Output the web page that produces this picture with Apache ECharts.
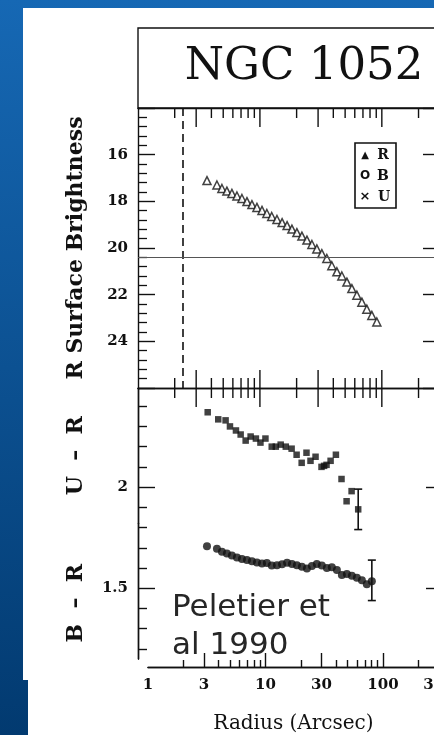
<!DOCTYPE html>
<html>
<head>
<meta charset="utf-8">
<script src="https://cdn.jsdelivr.net/npm/echarts@6/dist/echarts.min.js"></script>
<style>
html,body{margin:0;padding:0;}
body{width:434px;height:735px;position:relative;overflow:hidden;background:linear-gradient(180deg,#1668b4 0%,#023a70 100%);}
.pnl{position:absolute;background:#fff;}
#c{position:absolute;left:0;top:0;width:434px;height:735px;}
</style>
</head>
<body>
<div class="pnl" style="left:23px;top:8px;width:411px;height:672px;"></div>
<div class="pnl" style="left:28px;top:679px;width:406px;height:56px;"></div>
<div id="c"></div>
<script>
// ---------- data ----------
// R surface brightness profile (mag/arcsec^2) vs radius (arcsec)
const radiusR = [3.68, 4.44, 4.88, 5.36, 5.89, 6.48, 7.12, 7.83, 8.60, 9.45,
                 10.4, 11.4, 12.5, 13.8, 15.2, 16.7, 18.3, 20.1, 22.1, 24.3,
                 26.7, 29.3, 32.2, 35.4, 38.9, 42.8, 47.0, 51.7, 56.8, 62.4,
                 68.6, 75.3, 82.8, 91.0];
const magR = [17.11, 17.30, 17.45, 17.56, 17.66, 17.77, 17.88, 18.01, 18.14, 18.26,
              18.39, 18.52, 18.65, 18.78, 18.91, 19.04, 19.19, 19.34, 19.49, 19.66,
              19.85, 20.04, 20.24, 20.45, 20.76, 21.02, 21.20, 21.46, 21.74, 22.02,
              22.32, 22.62, 22.89, 23.17];

// U - R colour profile
const radiusUR = [3.73, 4.55, 5.23, 5.68, 6.36, 6.95, 7.64, 8.39, 9.27, 10.1,
                  11.1, 12.5, 13.5, 14.8, 16.3, 18.2, 20.0, 22.0, 24.1, 26.0,
                  28.6, 32.0, 33.6, 35.2, 38.0, 42.0, 46.7, 51.4, 56.5, 64.0];
const colorUR = [2.37, 2.335, 2.33, 2.30, 2.28, 2.26, 2.23, 2.25, 2.24, 2.22,
                 2.24, 2.20, 2.20, 2.21, 2.20, 2.19, 2.16, 2.12, 2.17, 2.13,
                 2.15, 2.10, 2.105, 2.11, 2.13, 2.16, 2.04, 1.93, 1.98, 1.89];

// B - R colour profile
const radiusBR = [3.68, 4.44, 4.88, 5.36, 5.89, 6.48, 7.12, 7.83, 8.60, 9.45,
                  10.4, 11.4, 12.5, 13.8, 15.2, 16.7, 18.3, 20.1, 22.1, 24.3,
                  26.7, 29.3, 32.2, 35.4, 38.9, 42.8, 47.0, 51.7, 56.8, 62.4,
                  68.6, 75.3, 82.8];
const colorBR = [1.707, 1.695, 1.680, 1.672, 1.662, 1.652, 1.645, 1.639, 1.633, 1.627,
                 1.622, 1.625, 1.612, 1.614, 1.618, 1.626, 1.620, 1.613, 1.606, 1.598,
                 1.610, 1.620, 1.612, 1.600, 1.604, 1.590, 1.565, 1.570, 1.562, 1.552,
                 1.540, 1.520, 1.535];

// error bars: radius, centre, half-length
const errRadiusUR = [64.0];  const errCenterUR = [1.89];  const errHalfUR = [0.10];
const errRadiusBR = [82.8];  const errCenterBR = [1.539]; const errHalfBR = [0.10];

// reference lines
const dashedRadius = 2.34;   // vertical dashed line (arcsec)
const skyLevel = 20.4;       // horizontal line (mag)

// tick values / labels
const xLongTicks  = [3, 10, 30, 100];
const xShortTicks = [2, 4, 5, 6, 7, 8, 9, 20, 40, 50, 60, 70, 80, 90, 200];
const xLabels     = [1, 3, 10, 30, 100, 300];
const urMajor = [2];
const urMinor = [1.9, 2.1, 2.2, 2.3, 2.4];
const brMajor = [1.5];
const brMinor = [1.2, 1.3, 1.4, 1.6, 1.7, 1.8];

// axis ranges
const SB_MIN = 14, SB_MAX = 26;
const UR_MIN = 1.82, UR_MAX = 2.49;
const BR_MIN = 1.15, BR_MAX = 1.82;

// ---------- chart ----------
const INK = '#111';
const SERIF = 'DejaVu Serif';
const chart = echarts.init(document.getElementById('c'), null, {renderer: 'canvas'});

function xAx(gridIndex, position, ticks, len, extra) {
  return Object.assign({
    type: 'log', min: 1, max: 300, gridIndex: gridIndex, position: position,
    axisLine: {show: true, onZero: false, lineStyle: {color: INK, width: 1.4}},
    axisTick: {show: true, inside: true, length: len, customValues: ticks, lineStyle: {color: INK, width: 1.4}},
    axisLabel: {show: false},
    splitLine: {show: false}
  }, extra || {});
}
function yAx(gridIndex, position, min, max, ticks, len, extra) {
  return Object.assign({
    type: 'value', gridIndex: gridIndex, position: position, min: min, max: max,
    axisLine: {show: true, lineStyle: {color: INK, width: 1.4}},
    axisTick: {show: true, inside: true, length: len, customValues: ticks, lineStyle: {color: INK, width: 1.4}},
    axisLabel: {show: false},
    splitLine: {show: false}
  }, extra || {});
}
const tickFont = {color: INK, fontFamily: SERIF, fontWeight: 'bold', fontSize: 15};
const nameFont = {color: INK, fontFamily: SERIF, fontWeight: 'bold', fontSize: 22};

function errRender(params, api) {
  const x = api.value(0), c = api.value(1), h = api.value(2);
  const a = api.coord([x, c + h]);
  const b = api.coord([x, c - h]);
  const cap = 4;
  const st = {stroke: INK, lineWidth: 1.6};
  return {type: 'group', children: [
    {type: 'line', shape: {x1: a[0], y1: a[1], x2: b[0], y2: b[1]}, style: st},
    {type: 'line', shape: {x1: a[0] - cap, y1: a[1], x2: a[0] + cap, y2: a[1]}, style: st},
    {type: 'line', shape: {x1: b[0] - cap, y1: b[1], x2: b[0] + cap, y2: b[1]}, style: st}
  ]};
}

// radius tick marks on panel edges, placed through the log x scale
const xTickData = xLongTicks.map(v => [v, 1]).concat(xShortTicks.map(v => [v, 0]));
function tickRenderer(topValue, bottomValue) {
  return function (params, api) {
    const v = api.value(0);
    const isLong = api.value(1) === 1;
    const st = {stroke: INK, lineWidth: 1.4};
    const kids = [];
    if (topValue !== null) {
      const p = api.coord([v, topValue]);
      const L = isLong ? 19 : 10;
      kids.push({type: 'line', shape: {x1: p[0], y1: p[1], x2: p[0], y2: p[1] + L}, style: st});
    }
    if (bottomValue !== null) {
      const q = api.coord([v, bottomValue]);
      const L = isLong ? 18 : 10;
      kids.push({type: 'line', shape: {x1: q[0], y1: q[1] - L, x2: q[0], y2: q[1]}, style: st});
    }
    return {type: 'group', children: kids};
  };
}

const option = {
  animation: false,
  backgroundColor: 'transparent',
  graphic: [
    {type: 'rect', z: 1, shape: {x: 138, y: 28, width: 310, height: 80},
     style: {fill: 'none', stroke: INK, lineWidth: 1.4}},
    {type: 'text', z: 5, style: {text: 'NGC 1052', x: 304, y: 67, align: 'center', verticalAlign: 'middle',
      font: '45px "DejaVu Serif"', fill: INK}},
    // legend box
    {type: 'rect', z: 5, shape: {x: 355, y: 143, width: 41, height: 65},
     style: {fill: '#fff', stroke: INK, lineWidth: 1.6}},
    {type: 'text', z: 6, style: {text: '▲', x: 365, y: 155, align: 'center', verticalAlign: 'middle',
      font: 'bold 10px "DejaVu Sans"', fill: INK}},
    {type: 'text', z: 6, style: {text: 'R', x: 383, y: 155, align: 'center', verticalAlign: 'middle',
      font: 'bold 14px "DejaVu Serif"', fill: INK}},
    {type: 'text', z: 6, style: {text: 'O', x: 365, y: 176, align: 'center', verticalAlign: 'middle',
      font: 'bold 12px "DejaVu Sans"', fill: INK}},
    {type: 'text', z: 6, style: {text: 'B', x: 383, y: 176, align: 'center', verticalAlign: 'middle',
      font: 'bold 14px "DejaVu Serif"', fill: INK}},
    {type: 'text', z: 6, style: {text: '×', x: 365, y: 197, align: 'center', verticalAlign: 'middle',
      font: 'bold 13px "DejaVu Sans"', fill: INK}},
    {type: 'text', z: 6, style: {text: 'U', x: 384, y: 197, align: 'center', verticalAlign: 'middle',
      font: 'bold 14px "DejaVu Serif"', fill: INK}},
    // overlay annotation
    {type: 'text', z: 50, style: {text: 'Peletier et\nal 1990', x: 172, y: 589, align: 'left', verticalAlign: 'top',
      font: '31px "DejaVu Sans"', lineHeight: 38, fill: '#262626'}}
  ],
  grid: [
    {left: 138, top: 108, width: 302, height: 280, outerBoundsMode: 'none'},     // 0 surface brightness
    {left: 138, top: 388, width: 302, height: 135.5, outerBoundsMode: 'none'},   // 1 U-R
    {left: 138, top: 523.5, width: 302, height: 135.5, outerBoundsMode: 'none'}, // 2 B-R
    {left: 148, top: 660, width: 291, height: 7, outerBoundsMode: 'none'}        // 3 radius axis
  ],
  xAxis: [
    xAx(0, 'bottom', xLongTicks, 1, {axisTick: {show: false}}),
    xAx(0, 'top', xLongTicks, 1, {axisTick: {show: false}}),
    xAx(1, 'top', xLongTicks, 1, {axisTick: {show: false}}),
    xAx(2, 'bottom', xLongTicks, 1, {show: false}),
    xAx(3, 'bottom', xLongTicks, 14, {
      axisLabel: Object.assign({show: true, margin: 11, customValues: xLabels}, tickFont),
      name: 'Radius (Arcsec)', nameLocation: 'middle', nameGap: 47,
      nameTextStyle: {color: INK, fontFamily: SERIF, fontSize: 20}
    }),
    xAx(3, 'bottom', xShortTicks, 7)
  ],
  yAxis: [
    {type: 'value', gridIndex: 0, position: 'left', inverse: true, min: SB_MIN, max: SB_MAX, interval: 2,
     axisLine: {show: true, lineStyle: {color: INK, width: 1.4}},
     axisTick: {show: true, inside: true, length: 17, lineStyle: {color: INK, width: 1.4}},
     minorTick: {show: true, splitNumber: 5, length: 9, lineStyle: {color: INK, width: 1.3}},
     axisLabel: Object.assign({showMinLabel: false, showMaxLabel: false, margin: 10}, tickFont),
     splitLine: {show: false},
     name: 'R Surface Brightness', nameLocation: 'middle', nameRotate: 90, nameGap: 51,
     nameTextStyle: nameFont},
    {type: 'value', gridIndex: 0, position: 'right', inverse: true, min: SB_MIN, max: SB_MAX, interval: 2,
     axisLine: {show: true, lineStyle: {color: INK, width: 1.4}},
     axisTick: {show: true, inside: true, length: 17, lineStyle: {color: INK, width: 1.4}},
     minorTick: {show: true, splitNumber: 5, length: 4, lineStyle: {color: INK, width: 1.3}},
     axisLabel: {show: false}, splitLine: {show: false}},
    yAx(1, 'left', UR_MIN, UR_MAX, urMajor, 17, {
      axisLabel: Object.assign({show: true, margin: 10, customValues: urMajor}, tickFont),
      name: 'U  –  R', nameLocation: 'middle', nameRotate: 90, nameGap: 51, nameTextStyle: nameFont}),
    yAx(1, 'left', UR_MIN, UR_MAX, urMinor, 9),
    yAx(1, 'right', UR_MIN, UR_MAX, urMajor, 14),
    yAx(2, 'left', BR_MIN, BR_MAX, brMajor, 17, {
      axisLabel: Object.assign({show: true, margin: 10, customValues: brMajor}, tickFont),
      name: 'B  –  R', nameLocation: 'middle', nameRotate: 90, nameGap: 51,
      nameTextStyle: Object.assign({padding: [0, 24, 0, 0]}, nameFont)}),
    yAx(2, 'left', BR_MIN, BR_MAX, brMinor, 9),
    yAx(2, 'right', BR_MIN, BR_MAX, brMajor, 14),
    {type: 'value', gridIndex: 3, show: false, min: 0, max: 1}
  ],
  series: [
    {name: 'R', type: 'scatter', xAxisIndex: 0, yAxisIndex: 0,
     data: radiusR.map((r, i) => [r, magR[i]]),
     symbol: 'triangle', symbolSize: 8,
     itemStyle: {color: '#fff', borderColor: INK, borderWidth: 1.5},
     markLine: {silent: true, symbol: 'none', label: {show: false},
       data: [
         {xAxis: dashedRadius, lineStyle: {type: [8, 5], width: 1.6, color: INK}},
         {yAxis: skyLevel, lineStyle: {type: 'solid', width: 1, color: '#555'}}
       ]}},
    {name: 'radius ticks top panel', type: 'custom', xAxisIndex: 0, yAxisIndex: 0, silent: true, z: 10,
     clip: false, encode: {x: 0}, data: xTickData, renderItem: tickRenderer(SB_MIN, SB_MAX)},
    {name: 'U - R', type: 'scatter', xAxisIndex: 2, yAxisIndex: 2,
     data: radiusUR.map((r, i) => [r, colorUR[i]]),
     symbol: 'rect', symbolSize: 6.5, itemStyle: {color: INK}},
    {name: 'U - R error', type: 'custom', xAxisIndex: 2, yAxisIndex: 2,
     data: errRadiusUR.map((r, i) => [r, errCenterUR[i], errHalfUR[i]]),
     renderItem: errRender},
    {name: 'radius ticks lower panel', type: 'custom', xAxisIndex: 2, yAxisIndex: 2, silent: true, z: 10,
     clip: false, encode: {x: 0}, data: xTickData, renderItem: tickRenderer(UR_MAX, null)},
    {name: 'B - R', type: 'scatter', xAxisIndex: 3, yAxisIndex: 5,
     data: radiusBR.map((r, i) => [r, colorBR[i]]),
     symbol: 'circle', symbolSize: 8, itemStyle: {color: INK}},
    {name: 'B - R error', type: 'custom', xAxisIndex: 3, yAxisIndex: 5,
     data: errRadiusBR.map((r, i) => [r, errCenterBR[i], errHalfBR[i]]),
     renderItem: errRender}
  ]
};
chart.setOption(option);
</script>
</body>
</html>
